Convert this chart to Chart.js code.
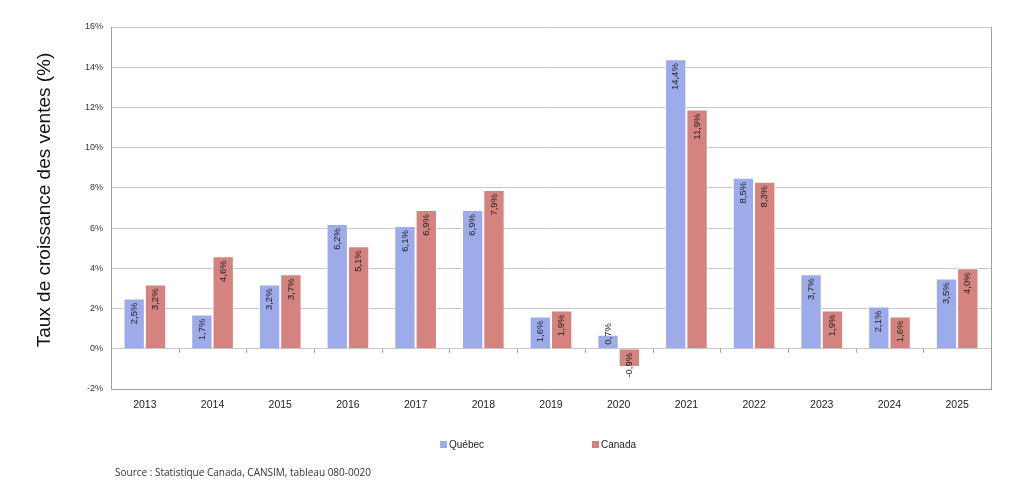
<!DOCTYPE html>
<html>
<head>
<meta charset="utf-8">
<script src="https://cdn.jsdelivr.net/npm/chart.js@4"></script>
<style>
  html, body { margin: 0; padding: 0; background: #fff; }
  #wrap { width: 1024px; height: 492px; position: relative; }
</style>
</head>
<body>
<div id="wrap"><canvas id="chart" width="1024" height="492"></canvas></div>
<script>
// données
const annees = ['2013', '2014', '2015', '2016', '2017', '2018', '2019', '2020', '2021', '2022', '2023', '2024', '2025'];
const quebec = [2.5, 1.7, 3.2, 6.2, 6.1, 6.9, 1.6, 0.7, 14.4, 8.5, 3.7, 2.1, 3.5];
const canada = [3.2, 4.6, 3.7, 5.1, 6.9, 7.9, 1.9, -0.9, 11.9, 8.3, 1.9, 1.6, 4.0];
const seriesNoms = ['Québec', 'Canada'];
const couleurs = ['#9dabeb', '#d4837f'];
const yMin = -2, yMax = 16, yPas = 2;
const titreY = 'Taux de croissance des ventes (%)';
const sourceTexte = 'Source : Statistique Canada, CANSIM, tableau 080-0020';

const fmt = v => v.toFixed(1).replace('.', ',') + '%';

// étiquettes de valeurs verticales dans les barres
const etiquettes = {
    id: 'etiquettes',
    afterDatasetsDraw(chart) {
        const ctx = chart.ctx;
        const zeroY = chart.scales.y.getPixelForValue(0);
        ctx.save();
        ctx.font = '9.5px "Liberation Sans", Arial, sans-serif';
        ctx.fillStyle = '#222';
        ctx.textBaseline = 'middle';
        chart.data.datasets.forEach((ds, i) => {
            chart.getDatasetMeta(i).data.forEach((bar, j) => {
                const v = ds.data[j];
                const txt = fmt(v);
                const w = ctx.measureText(txt).width;
                const h = Math.abs(bar.base - bar.y);
                ctx.save();
                if (h > w + 8) {
                    if (v >= 0) {
                        ctx.translate(bar.x, bar.y + 4);
                        ctx.rotate(-Math.PI / 2);
                        ctx.textAlign = 'right';
                    } else {
                        ctx.translate(bar.x, bar.y - 4);
                        ctx.rotate(-Math.PI / 2);
                        ctx.textAlign = 'left';
                    }
                } else if (v >= 0) {
                    ctx.translate(bar.x, zeroY - 4);
                    ctx.rotate(-Math.PI / 2);
                    ctx.textAlign = 'left';
                } else {
                    ctx.translate(bar.x, zeroY + 4);
                    ctx.rotate(-Math.PI / 2);
                    ctx.textAlign = 'right';
                }
                ctx.fillText(txt, 0, 0);
                ctx.restore();
            });
        });
        ctx.restore();
    }
};

// titre de l'axe Y, petites graduations sur l'axe à 0 %, légende et source
const decor = {
    id: 'decor',
    afterDraw(chart) {
        const ctx = chart.ctx;
        const x = chart.scales.x;
        const zeroY = chart.scales.y.getPixelForValue(0);
        ctx.save();
        ctx.strokeStyle = '#a0a0a0';
        ctx.lineWidth = 1;
        for (let i = 0; i < annees.length - 1; i++) {
            const px = Math.round((x.getPixelForTick(i) + x.getPixelForTick(i + 1)) / 2) + 0.5;
            ctx.beginPath();
            ctx.moveTo(px, zeroY);
            ctx.lineTo(px, zeroY + 4);
            ctx.stroke();
        }

        // titre Y
        ctx.save();
        ctx.translate(45, 200);
        ctx.rotate(-Math.PI / 2);
        ctx.font = '19px "Liberation Sans", Arial, sans-serif';
        ctx.fillStyle = '#111';
        ctx.textAlign = 'center';
        ctx.textBaseline = 'middle';
        ctx.fillText(titreY, 0, 0);
        ctx.restore();

        // légende
        const pos = [440, 592];
        ctx.font = '10px "Liberation Sans", Arial, sans-serif';
        ctx.textBaseline = 'middle';
        ctx.textAlign = 'left';
        seriesNoms.forEach((nom, i) => {
            ctx.fillStyle = couleurs[i];
            ctx.fillRect(pos[i], 441, 7, 7);
            ctx.fillStyle = '#222';
            ctx.fillText(nom, pos[i] + 9, 445);
        });

        // source
        ctx.font = '10px "Open Sans", "Liberation Sans", sans-serif';
        ctx.fillStyle = '#333';
        ctx.fillText(sourceTexte, 115, 473);
        ctx.restore();
    }
};

const ctx = document.getElementById('chart').getContext('2d');
new Chart(ctx, {
    type: 'bar',
    data: {
        labels: annees,
        datasets: [
            { label: seriesNoms[0], data: quebec, backgroundColor: couleurs[0], borderColor: '#fff', borderWidth: 1 },
            { label: seriesNoms[1], data: canada, backgroundColor: couleurs[1], borderColor: '#fff', borderWidth: 1 }
        ]
    },
    options: {
        responsive: false,
        animation: false,
        devicePixelRatio: 1,
        layout: { padding: { top: 27, right: 33, bottom: 0, left: 0 } },
        datasets: { bar: { categoryPercentage: 0.63, barPercentage: 1 } },
        plugins: { legend: { display: false }, tooltip: { enabled: false } },
        scales: {
            x: {
                grid: { display: false },
                border: { color: '#a0a0a0' },
                ticks: { color: '#222', font: { size: 10.5, family: '"Liberation Sans", Arial, sans-serif' }, padding: 2 },
                afterFit(scale) { scale.height = 103; }
            },
            y: {
                min: yMin,
                max: yMax,
                ticks: {
                    stepSize: yPas,
                    color: '#333',
                    padding: 8,
                    font: { size: 9, family: '"Liberation Sans", Arial, sans-serif' },
                    callback: v => v + '%'
                },
                grid: { color: '#c8c8c8', lineWidth: 1, drawTicks: false },
                border: { color: '#a0a0a0' },
                afterFit(scale) { scale.width = 111; }
            },
            y2: {
                position: 'right',
                min: yMin,
                max: yMax,
                ticks: { display: false },
                grid: { display: false },
                border: { color: '#a0a0a0' },
                afterFit(scale) { scale.width = 0; }
            }
        }
    },
    plugins: [etiquettes, decor]
});
</script>
</body>
</html>
